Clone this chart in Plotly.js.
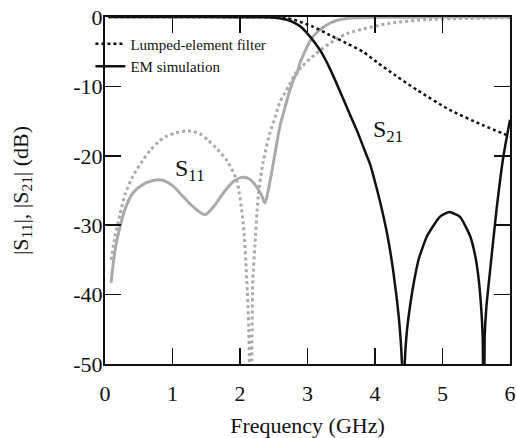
<!DOCTYPE html>
<html>
<head>
<meta charset="utf-8">
<script src="https://cdn.plot.ly/plotly-3.0.1.min.js"></script>
<style>html,body{margin:0;padding:0;background:#fff;}#chart{width:516px;height:438px;}</style>
</head>
<body>
<div id="chart"></div>
<script>
// Lumped-element filter |S11| (gray dotted)
var lumpS11Freq = [0.09, 0.15, 0.22, 0.3, 0.41, 0.55, 0.67, 0.8, 0.91, 1.05, 1.23, 1.4, 1.52, 1.65, 1.8, 1.95, 2.05, 2.1, 2.13, 2.155, 2.18, 2.19, 2.22, 2.27, 2.34, 2.44, 2.52, 2.59, 2.72, 2.81, 2.93, 3.11, 3.33, 3.58, 3.97, 4.22, 4.72, 5.3, 6.0];
var lumpS11dB   = [-35, -31.5, -28.5, -25.5, -23, -20.8, -19.2, -17.9, -17.2, -16.7, -16.4, -16.8, -17.7, -18.9, -20.6, -23.5, -30, -37.9, -45, -62, -45, -38, -33, -25.9, -21, -16.8, -14.5, -12.3, -10, -8.3, -7.0, -5.4, -3.8, -2.4, -1.4, -0.9, -0.4, -0.2, -0.1];

// EM simulation |S11| (gray solid)
var emS11Freq = [0.09, 0.15, 0.22, 0.3, 0.41, 0.55, 0.7, 0.84, 1.0, 1.16, 1.3, 1.48, 1.62, 1.75, 1.9, 2.04, 2.15, 2.25, 2.32, 2.37, 2.44, 2.52, 2.59, 2.67, 2.74, 2.81, 2.84, 2.89, 2.96, 3.04, 3.13, 3.23, 3.33, 3.43, 3.55, 3.7, 3.9, 4.2, 4.6, 5.0, 5.5, 6.0];
var emS11dB   = [-38.3, -33.5, -30.3, -27.6, -25.4, -24.2, -23.6, -23.5, -24.3, -25.9, -27.3, -28.5, -27.2, -25.4, -23.7, -23.1, -23.4, -24.5, -25.7, -26.8, -23.9, -19.6, -15.8, -12.9, -10.5, -8.6, -8.2, -6.6, -5.0, -3.4, -2.3, -1.5, -0.9, -0.5, -0.25, -0.12, -0.06, -0.03, -0.02, -0.01, 0, 0];

// Lumped-element filter |S21| (black dotted)
var lumpS21Freq = [0.05, 1.0, 2.0, 2.5, 2.7, 2.8, 2.89, 3.08, 3.33, 3.58, 3.82, 4.04, 4.3, 4.62, 5.11, 5.6, 6.0];
var lumpS21dB   = [0, 0, 0, -0.05, -0.2, -0.4, -0.7, -1.4, -2.6, -3.8, -5.0, -6.6, -8.4, -10.5, -13.4, -15.6, -17.2];

// EM simulation |S21| (black solid)
var emS21Freq = [0.05, 1.0, 2.0, 2.4, 2.6, 2.7, 2.8, 2.9, 3.0, 3.1, 3.2, 3.33, 3.45, 3.6, 3.73, 3.85, 3.93, 4.02, 4.12, 4.2, 4.27, 4.33, 4.37, 4.4, 4.42, 4.44, 4.47, 4.52, 4.58, 4.65, 4.77, 4.96, 5.1, 5.26, 5.41, 5.48, 5.53, 5.57, 5.595, 5.61, 5.625, 5.65, 5.7, 5.8, 5.9, 6.0];
var emS21dB   = [0, 0, -0.02, -0.05, -0.2, -0.4, -0.8, -1.4, -2.4, -3.6, -5.0, -7.4, -10.0, -13.4, -16.3, -19.3, -21.3, -24.5, -28.5, -32.3, -36.6, -41.2, -45.2, -50, -62, -50, -45.5, -41.6, -38.0, -34.8, -31.6, -28.8, -28.1, -28.8, -31.6, -34.2, -37.3, -41.5, -46, -62, -46, -41.8, -37.0, -27.8, -20.2, -14.8];

var seriesNames = ["Lumped-element filter", "EM simulation"];
var xTickVals = [0, 1, 2, 3, 4, 5, 6];
var xTickText = ["0", "1", "2", "3", "4", "5", "6"];
var yTickVals = [-50, -40, -30, -20, -10, 0];
var yTickText = ["-50", "-40", "-30", "-20", "-10", "0"];

var gray = "#aaaaaa";
var serif = "Liberation Serif";

var traces = [
  {x: lumpS11Freq, y: lumpS11dB, mode: "lines", showlegend: false,
   line: {color: gray, width: 3, dash: "dot", shape: "spline", smoothing: 0.7}},
  {x: emS11Freq, y: emS11dB, mode: "lines", showlegend: false,
   line: {color: gray, width: 3, shape: "spline", smoothing: 0.7}},
  {x: lumpS21Freq, y: lumpS21dB, mode: "lines", name: seriesNames[0],
   line: {color: "#111111", width: 2.5, dash: "dot", shape: "spline", smoothing: 0.7}},
  {x: emS21Freq, y: emS21dB, mode: "lines", name: seriesNames[1],
   line: {color: "#111111", width: 2.5, shape: "spline", smoothing: 0.5}},
  // invisible helper trace for the mirrored top/right tick axes
  {x: [0, 6], y: [-50, 0], xaxis: "x2", yaxis: "y2", mode: "lines", showlegend: false,
   hoverinfo: "skip", line: {width: 0, color: "rgba(0,0,0,0)"}}
];

var tickBase = {ticks: "inside", ticklen: 16, tickwidth: 1.5, tickcolor: "#111111",
                showline: true, linewidth: 2, linecolor: "#111111",
                showgrid: false, zeroline: false};

var layout = {
  width: 516, height: 438,
  margin: {l: 105, r: 6, t: 17, b: 74, autoexpand: false},
  paper_bgcolor: "#ffffff", plot_bgcolor: "#ffffff",
  font: {family: serif, color: "#111111", size: 22},
  showlegend: true,
  legend: {x: -0.036, y: 0.97, xanchor: "left", yanchor: "top",
           bgcolor: "rgba(0,0,0,0)", borderwidth: 0,
           font: {family: serif, size: 15, color: "#111111"},
           itemwidth: 30, tracegroupgap: 0},
  xaxis: Object.assign({}, tickBase, {range: [0, 6], tickvals: xTickVals, ticktext: xTickText,
          automargin: true, ticklabelstandoff: 9,
          tickfont: {family: serif, size: 22},
          title: {text: "Frequency (GHz)", font: {family: serif, size: 22}, standoff: 18}}),
  yaxis: Object.assign({}, tickBase, {range: [-50, 0], tickvals: yTickVals, ticktext: yTickText,
          automargin: true, ticklabelstandoff: -4,
          tickfont: {family: serif, size: 22},
          title: {text: "|S<sub>11</sub>|, |S<sub>21</sub>| (dB)", font: {family: serif, size: 22}, standoff: 39}}),
  xaxis2: Object.assign({}, tickBase, {range: [0, 6], overlaying: "x", side: "top",
          tickvals: xTickVals, showticklabels: false}),
  yaxis2: Object.assign({}, tickBase, {range: [-50, 0], overlaying: "y", side: "right",
          tickvals: yTickVals, showticklabels: false}),
  annotations: [
    {x: 1.26, y: -22, xref: "x", yref: "y", text: "S<sub>11</sub>", showarrow: false,
     font: {family: serif, size: 24, color: "#111111"}},
    {x: 4.19, y: -16.4, xref: "x", yref: "y", text: "S<sub>21</sub>", showarrow: false,
     font: {family: serif, size: 24, color: "#111111"}}
  ]
};

Plotly.newPlot("chart", traces, layout, {displayModeBar: false, staticPlot: true});
</script>
</body>
</html>
